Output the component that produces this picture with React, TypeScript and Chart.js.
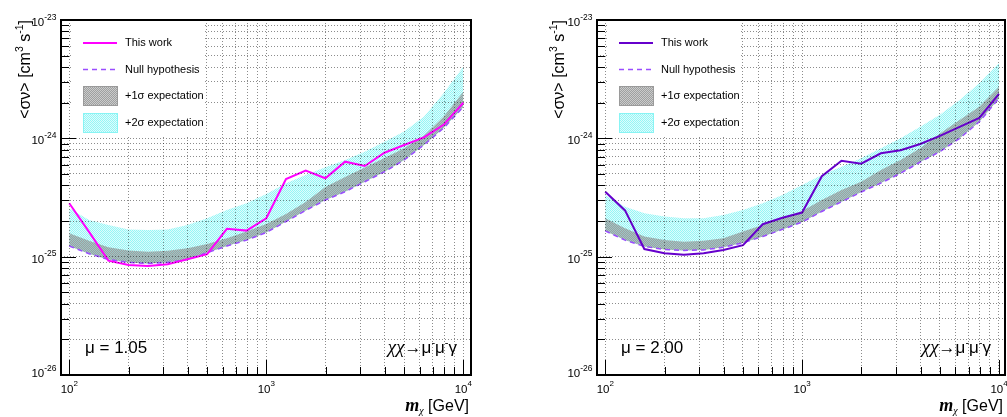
import React, { useEffect, useRef } from "react";
import { Chart, registerables } from "chart.js";

Chart.register(...registerables);

// ---------------- data ----------------
const masses = [100, 126, 158, 200, 251, 316, 398, 501, 631, 794, 1000, 1259, 1585, 1995, 2512, 3162, 3981, 5012, 6310, 7943, 10000];

// left panel (mu = 1.05)
const observedA = [2.83e-25, 1.62e-25, 9.25e-26, 8.5e-26, 8.34e-26, 8.62e-26, 9.5e-26, 1.05e-25, 1.72e-25, 1.66e-25, 2.11e-25, 4.53e-25, 5.33e-25, 4.6e-25, 6.35e-25, 5.84e-25, 7.56e-25, 8.79e-25, 1.02e-24, 1.3e-24, 2.0e-24];
const nullA = [1.23e-25, 1.06e-25, 9.47e-26, 8.93e-26, 8.76e-26, 8.93e-26, 9.47e-26, 1.08e-25, 1.23e-25, 1.38e-25, 1.6e-25, 1.98e-25, 2.46e-25, 3.01e-25, 3.54e-25, 4.3e-25, 5.22e-25, 6.56e-25, 8.79e-25, 1.22e-24, 1.84e-24];
const plus1A = [1.58e-25, 1.36e-25, 1.2e-25, 1.13e-25, 1.1e-25, 1.12e-25, 1.18e-25, 1.28e-25, 1.43e-25, 1.63e-25, 1.89e-25, 2.29e-25, 2.9e-25, 3.88e-25, 4.71e-25, 5.67e-25, 6.82e-25, 8.24e-25, 1.05e-24, 1.52e-24, 2.48e-24];
const plus2A = [2.56e-25, 2.04e-25, 1.85e-25, 1.7e-25, 1.68e-25, 1.7e-25, 1.85e-25, 2.11e-25, 2.48e-25, 2.83e-25, 3.39e-25, 4.17e-25, 4.9e-25, 5.69e-25, 6.56e-25, 7.71e-25, 9.37e-25, 1.14e-24, 1.52e-24, 2.4e-24, 4.03e-24];

// right panel (mu = 2.00)
const observedB = [3.54e-25, 2.46e-25, 1.16e-25, 1.07e-25, 1.04e-25, 1.07e-25, 1.14e-25, 1.25e-25, 1.88e-25, 2.13e-25, 2.36e-25, 4.78e-25, 6.47e-25, 6.11e-25, 7.47e-25, 7.92e-25, 8.96e-25, 1.05e-24, 1.25e-24, 1.49e-24, 2.37e-24];
const nullB = [1.65e-25, 1.38e-25, 1.22e-25, 1.15e-25, 1.13e-25, 1.14e-25, 1.2e-25, 1.31e-25, 1.48e-25, 1.7e-25, 1.96e-25, 2.41e-25, 2.91e-25, 3.52e-25, 4.19e-25, 5.06e-25, 6.31e-25, 7.71e-25, 1.0e-24, 1.38e-24, 2.18e-24];
const plus1B = [2.11e-25, 1.74e-25, 1.48e-25, 1.38e-25, 1.34e-25, 1.36e-25, 1.43e-25, 1.63e-25, 1.85e-25, 2.11e-25, 2.43e-25, 3.01e-25, 3.66e-25, 4.3e-25, 5.4e-25, 6.56e-25, 8.24e-25, 1.1e-24, 1.43e-24, 1.85e-24, 2.73e-24];
const plus2B = [3.32e-25, 2.64e-25, 2.33e-25, 2.18e-25, 2.11e-25, 2.11e-25, 2.25e-25, 2.48e-25, 2.83e-25, 3.32e-25, 4.03e-25, 4.9e-25, 5.76e-25, 6.78e-25, 8.24e-25, 1.0e-24, 1.25e-24, 1.58e-24, 2.11e-24, 2.92e-24, 4.31e-24];

// ticks
const xTicks = [100, 200, 300, 400, 500, 600, 700, 800, 900, 1000, 2000, 3000, 4000, 5000, 6000, 7000, 8000, 9000, 10000];
const yTicks = [
  1e-26, 2e-26, 3e-26, 4e-26, 5e-26, 6e-26, 7e-26, 8e-26, 9e-26,
  1e-25, 2e-25, 3e-25, 4e-25, 5e-25, 6e-25, 7e-25, 8e-25, 9e-25,
  1e-24, 2e-24, 3e-24, 4e-24, 5e-24, 6e-24, 7e-24, 8e-24, 9e-24,
  1e-23,
];
const xLabelTicks = [100, 1000, 10000];
const yLabelTicks = [1e-26, 1e-25, 1e-24, 1e-23];
const legendLabels = ["This work", "Null hypothesis", "+1σ expectation", "+2σ expectation"];

// ---------------- styles ----------------
const SANS = '"Liberation Sans", Arial, Helvetica, sans-serif';
const SERIF = '"Liberation Serif", "Times New Roman", serif';
const NULL_COLOR = "#9a4dff";

const panelA = {
  left: 0, width: 490, padRight: 19, xMin: 90.8, xMax: 10940,
  mu: "1.05", color: "#ff00ff", titleX: 30,
  obs: observedA, nul: nullA, s1: plus1A, s2: plus2A,
};
const panelB = {
  left: 536, width: 471, padRight: 2, xMin: 90.8, xMax: 10727,
  mu: "2.00", color: "#6600cc", titleX: 27.5,
  obs: observedB, nul: nullB, s1: plus1B, s2: plus2B,
};

type Seg = { t: string; font: string; dy?: number };

function drawSegs(ctx: CanvasRenderingContext2D, segs: Seg[], x: number, y: number, align: "left" | "right" | "center") {
  let total = 0;
  const widths = segs.map((s) => {
    ctx.font = s.font;
    const w = ctx.measureText(s.t).width;
    total += w;
    return w;
  });
  let cx = align === "right" ? x - total : align === "center" ? x - total / 2 : x;
  ctx.textAlign = "left";
  ctx.textBaseline = "alphabetic";
  segs.forEach((s, i) => {
    ctx.font = s.font;
    ctx.fillText(s.t, cx, y + (s.dy || 0));
    cx += widths[i];
  });
}

function isMajor(v: number) {
  const l = Math.log10(v);
  return Math.abs(l - Math.round(l)) < 1e-6;
}

function makePattern(ctx: CanvasRenderingContext2D, main: string, other: string | null, offset: boolean) {
  const c = document.createElement("canvas");
  c.width = 2;
  c.height = 2;
  const g = c.getContext("2d")!;
  const a = offset ? [[1, 0], [0, 1]] : [[0, 0], [1, 1]];
  const b = offset ? [[0, 0], [1, 1]] : [[1, 0], [0, 1]];
  g.fillStyle = main;
  a.forEach(([x, y]) => g.fillRect(x, y, 1, 1));
  if (other) {
    g.fillStyle = other;
    b.forEach(([x, y]) => g.fillRect(x, y, 1, 1));
  }
  return ctx.createPattern(c, "repeat")!;
}

function Panel({ cfg }: { cfg: any }) {
  const ref = useRef<HTMLCanvasElement>(null);
  useEffect(() => {
    const canvas = ref.current!;
    const ctx = canvas.getContext("2d")!;
    const cyanPat = makePattern(ctx, "rgb(150, 246, 246)", "rgba(150, 246, 246, 0.3)", false);
    const greyPat = makePattern(ctx, "rgb(158, 160, 160)", "rgba(160, 160, 160, 0.55)", true);
    const pts = (arr: number[]) => masses.map((m, i) => ({ x: m, y: arr[i] }));

    const decor = {
      id: "decor",
      afterDraw(chart: any) {
        const c: CanvasRenderingContext2D = chart.ctx;
        const a = chart.chartArea;
        const xs = chart.scales.x;
        const ys = chart.scales.y;
        const L = a.left;
        c.save();

        // legend
        c.fillStyle = "#ffffff";
        c.fillRect(L + 10, 23, 132, 113);
        c.setLineDash([]);
        c.strokeStyle = cfg.color;
        c.lineWidth = 2;
        c.beginPath();
        c.moveTo(L + 22, 43);
        c.lineTo(L + 56, 43);
        c.stroke();
        c.strokeStyle = NULL_COLOR;
        c.lineWidth = 1.5;
        c.setLineDash([5, 4]);
        c.beginPath();
        c.moveTo(L + 22, 69.5);
        c.lineTo(L + 56, 69.5);
        c.stroke();
        c.setLineDash([]);
        c.fillStyle = greyPat;
        c.fillRect(L + 22, 86, 34, 19);
        c.strokeStyle = "#9a9a9a";
        c.lineWidth = 1;
        c.strokeRect(L + 22.5, 86.5, 34, 19);
        c.fillStyle = cyanPat;
        c.fillRect(L + 22, 113, 34, 19);
        c.strokeStyle = "#88f4f4";
        c.strokeRect(L + 22.5, 113.5, 34, 19);
        c.fillStyle = "#000";
        c.font = `11px ${SANS}`;
        c.textAlign = "left";
        c.textBaseline = "middle";
        const ly = [43, 69.5, 95.5, 122.5];
        legendLabels.forEach((t, i) => c.fillText(t, L + 64, ly[i]));

        // frame
        c.strokeStyle = "#000";
        c.lineWidth = 2;
        c.strokeRect(a.left, a.top, a.right - a.left, a.bottom - a.top);

        // inward ticks
        c.lineWidth = 1;
        c.beginPath();
        xTicks.forEach((v) => {
          const px = Math.round(xs.getPixelForValue(v)) + 0.5;
          const len = isMajor(v) ? 15 : 8;
          c.moveTo(px, a.bottom);
          c.lineTo(px, a.bottom - len);
        });
        yTicks.forEach((v) => {
          const py = Math.round(ys.getPixelForValue(v)) + 0.5;
          const len = isMajor(v) ? 15 : 8;
          c.moveTo(a.left, py);
          c.lineTo(a.left + len, py);
        });
        c.stroke();

        // tick labels
        c.fillStyle = "#000";
        xLabelTicks.forEach((v) => {
          const px = xs.getPixelForValue(v);
          const e = String(Math.round(Math.log10(v)));
          drawSegs(c, [
            { t: "10", font: `11.5px ${SANS}` },
            { t: e, font: `8px ${SANS}`, dy: -7 },
          ], px, a.bottom + 18, "center");
        });
        yLabelTicks.forEach((v) => {
          const py = ys.getPixelForValue(v);
          const e = String(Math.round(Math.log10(v)));
          const base = v === yLabelTicks[0] ? py + 2 : py + 6;
          drawSegs(c, [
            { t: "10", font: `11.5px ${SANS}` },
            { t: e, font: `8.5px ${SANS}`, dy: -6.5 },
          ], a.left - 4.5, base, "right");
        });

        // axis titles
        drawSegs(c, [
          { t: "m", font: `italic bold 18px ${SERIF}` },
          { t: "χ", font: `italic 10px ${SERIF}`, dy: 3 },
          { t: " [GeV]", font: `16px ${SANS}` },
        ], a.right - 2, 411, "right");

        c.save();
        c.translate(cfg.titleX, a.top);
        c.rotate(-Math.PI / 2);
        drawSegs(c, [
          { t: "<σν> [cm", font: `16px ${SANS}` },
          { t: "3", font: `10.5px ${SANS}`, dy: -7 },
          { t: " s", font: `16px ${SANS}` },
          { t: "-1", font: `10.5px ${SANS}`, dy: -7 },
          { t: "]", font: `16px ${SANS}` },
        ], 0, 0, "right");
        c.restore();

        // annotations
        drawSegs(c, [{ t: `μ = ${cfg.mu}`, font: `17px ${SANS}` }], L + 24, 353, "left");
        drawSegs(c, [
          { t: "χχ", font: `italic 19px ${SERIF}` },
          { t: "→μ", font: `17px ${SANS}` },
          { t: "-", font: `11px ${SANS}`, dy: -7 },
          { t: "μ", font: `17px ${SANS}` },
          { t: "-", font: `11px ${SANS}`, dy: -7 },
          { t: "γ", font: `17px ${SANS}` },
        ], a.right - 14, 353, "right");

        c.restore();
      },
    };

    const gridOpts = { color: "rgba(0,0,0,0.45)", lineWidth: 1, drawTicks: false, z: 1 };

    const chart = new Chart(canvas, {
      type: "line",
      data: {
        datasets: [
          { label: legendLabels[0], data: pts(cfg.obs), borderColor: cfg.color, borderWidth: 2, pointRadius: 0, tension: 0, fill: false },
          { label: legendLabels[1], data: pts(cfg.nul), borderColor: NULL_COLOR, borderWidth: 1.5, borderDash: [5, 4], pointRadius: 0, tension: 0, fill: false },
          { label: legendLabels[2], data: pts(cfg.s1), borderColor: "rgba(0,0,0,0)", borderWidth: 0, backgroundColor: greyPat, pointRadius: 0, tension: 0, fill: 1 },
          { label: legendLabels[3], data: pts(cfg.s2), borderColor: "rgba(0,0,0,0)", borderWidth: 0, backgroundColor: cyanPat, pointRadius: 0, tension: 0, fill: 1 },
        ],
      } as any,
      options: {
        responsive: false,
        animation: false,
        devicePixelRatio: 1,
        events: [],
        layout: { padding: { left: 61, top: 20, right: cfg.padRight, bottom: 42 } },
        plugins: { legend: { display: false }, tooltip: { enabled: false } },
        scales: {
          x: {
            type: "logarithmic",
            min: cfg.xMin,
            max: cfg.xMax,
            afterBuildTicks: (s: any) => { s.ticks = xTicks.map((v) => ({ value: v })); },
            afterFit: (s: any) => { s.height = 0; },
            ticks: { display: false },
            grid: gridOpts,
            border: { display: false, dash: [1, 2] },
          },
          y: {
            type: "logarithmic",
            min: 1e-26,
            max: 1e-23,
            afterBuildTicks: (s: any) => { s.ticks = yTicks.map((v) => ({ value: v })); },
            afterFit: (s: any) => { s.width = 0; },
            ticks: { display: false },
            grid: gridOpts,
            border: { display: false, dash: [1, 2] },
          },
        },
      } as any,
      plugins: [decor as any],
    });
    return () => chart.destroy();
  }, []);
  return (
    <canvas
      ref={ref}
      width={cfg.width}
      height={417}
      style={{ position: "absolute", left: cfg.left, top: 0, width: cfg.width, height: 417 }}
    />
  );
}

export default function App() {
  return (
    <div style={{ position: "fixed", left: 0, top: 0, width: 1007, height: 417, background: "#fff", overflow: "hidden" }}>
      <Panel cfg={panelA} />
      <Panel cfg={panelB} />
    </div>
  );
}
